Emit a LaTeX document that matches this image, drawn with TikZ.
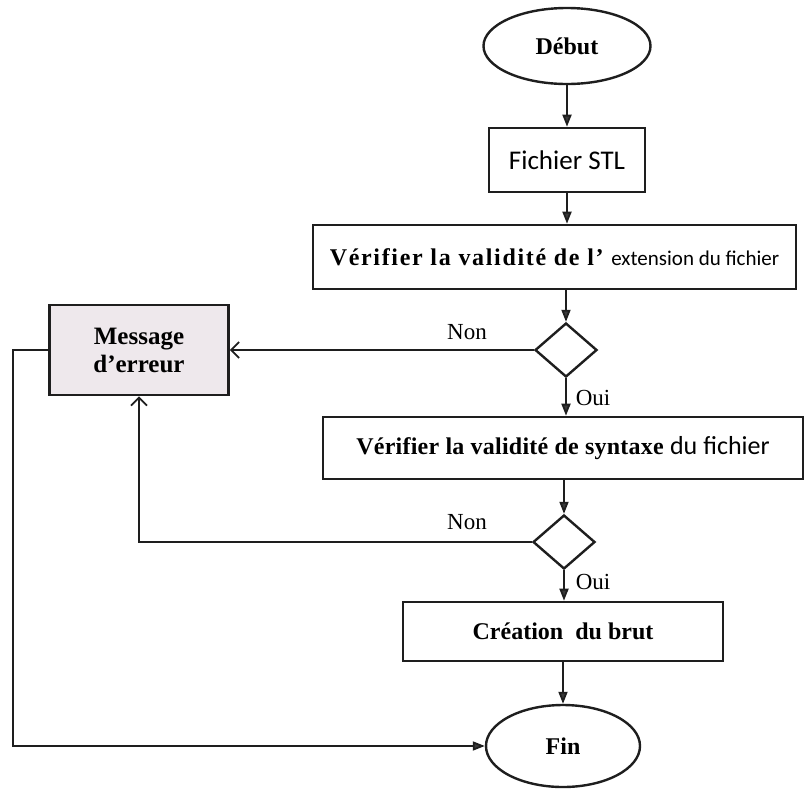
\documentclass[tikz,border=0pt]{standalone}
\usepackage{fontspec}
\setmainfont{Liberation Serif}
\newfontfamily\calibfont{Carlito}
\newfontfamily\widefont[LetterSpace=7]{Liberation Serif}
\newfontfamily\semiwide[LetterSpace=1]{Liberation Serif}
\usetikzlibrary{shapes.geometric,arrows.meta}
\definecolor{linec}{HTML}{1E1E1E}
\definecolor{tipc}{HTML}{3A3A3A}
\definecolor{msgfill}{HTML}{EEE8EC}
\tikzset{
  boxst/.style={draw=linec, line width=2.6pt, rectangle, inner sep=0pt, font=\fontsize{24}{28}\selectfont\bfseries},
  ovalst/.style={draw=linec, line width=2.4pt, ellipse, inner sep=0pt, font=\fontsize{24}{28}\selectfont\bfseries},
  decst/.style={draw=linec, line width=2.4pt, diamond, inner sep=0pt, minimum width=62pt, minimum height=54pt, aspect=1.15},
  lblst/.style={font=\fontsize{23}{26}\selectfont, inner sep=0pt},
  flow/.style={draw=linec, line width=1.8pt, -{Triangle[length=12pt,width=9pt,fill=tipc]}},
  back/.style={draw=linec, line width=1.8pt, -{Straight Barb[length=8pt,width=16pt,line width=1.8pt]}},
  plain/.style={draw=linec, line width=1.8pt}
}
\begin{document}
\begin{tikzpicture}[x=1pt,y=-1pt]
\useasboundingbox (0,0) rectangle (811,788);
\node[ovalst, minimum width=167pt, minimum height=76pt] (debut) at (567,46) {Début};
\node[boxst, minimum width=156pt, minimum height=64pt, font=\fontsize{27}{30}\calibfont] (fichier) at (567,160) {Fichier STL};
\node[boxst, minimum width=483pt, minimum height=64pt, font=\fontsize{24}{30}\widefont\bfseries] (verif1) at (554.5,257) {Vérifier la validité de l’ {\calibfont\mdseries\fontsize{21}{26}\selectfont extension du fichier}};
\node[decst] (d1) at (566,350) {};
\node[boxst, fill=msgfill, minimum width=179pt, minimum height=90pt, align=center, font=\fontsize{25}{28}\selectfont\bfseries] (msg) at (139,350) {Message\\d’erreur};
\node[lblst] (non1) at (467,332) {Non};
\node[lblst] (oui1) at (593,398) {Oui};
\node[boxst, minimum width=480pt, minimum height=62pt, font=\fontsize{24}{28}\semiwide\bfseries] (verif2) at (563,448) {Vérifier la validité de syntaxe {\calibfont\mdseries\fontsize{26}{28}\selectfont du fichier}};
\node[decst] (d2) at (564,542) {};
\node[lblst] (non2) at (467,522) {Non};
\node[lblst] (oui2) at (593,582) {Oui};
\node[boxst, minimum width=320pt, minimum height=59pt] (create) at (563,631.5) {Création~ du brut};
\node[ovalst, minimum width=154pt, minimum height=82pt] (fin) at (563,746) {Fin};
\coordinate (c1) at (13,350);
\coordinate (c2) at (13,746);
\coordinate (c3) at (139,542);
\path[flow] (debut.south) -- (debut.south |- fichier.north);
\path[flow] (fichier.south) -- (fichier.south |- verif1.north);
\path[flow] (d1.north |- verif1.south) -- (d1.north);
\path[back] (d1.west) -- (msg.east);
\path[flow] (d1.south) -- (d1.south |- verif2.north);
\path[flow] (d2.north |- verif2.south) -- (d2.north);
\path[back] (d2.west) -- (c3) -- (msg.south);
\path[flow] (d2.south) -- (d2.south |- create.north);
\path[flow] (create.south) -- (fin.north);
\path[flow] (msg.west) -- (c1) -- (c2) -- (fin.west);
\end{tikzpicture}
\end{document}
